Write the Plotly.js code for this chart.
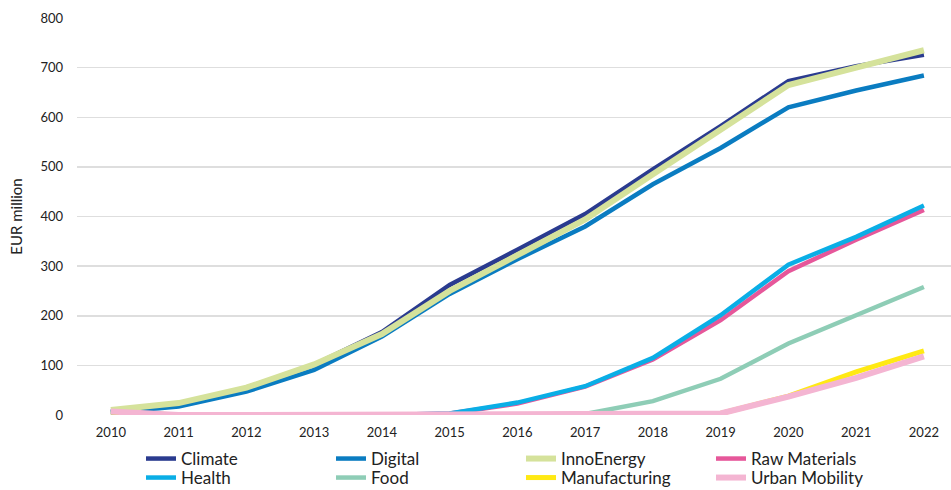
<!DOCTYPE html>
<html>
<head>
<meta charset="utf-8">
<script src="https://cdn.plot.ly/plotly-3.0.1.min.js"></script>
<style>html,body{margin:0;padding:0;background:#fff;}#chart{width:951px;height:490px;}</style>
</head>
<body>
<div id="chart"></div>
<script>
const years = [2010, 2011, 2012, 2013, 2014, 2015, 2016, 2017, 2018, 2019, 2020, 2021, 2022];
const climate = [7, 22, 55, 101, 167, 262, 333, 405, 495, 582, 673, 703, 726];
const digital = [5, 17, 47, 91, 158, 244, 314, 380, 465, 538, 620, 654, 684];
const innoEnergy = [10, 24, 55, 102, 163, 250, 322, 394, 485, 575, 665, 700, 735];
const rawMaterials = [6, 0, 0, 0, 0, 3, 23, 57, 112, 191, 290, 353, 413];
const health = [6, 0, 0, 0, 0, 3, 25, 58, 115, 201, 303, 359, 422];
const food = [6, 0, 0, 0, 0, 0, 0, 2, 28, 73, 144, 202, 258];
const manufacturing = [6, 0, 0, 0, 0, 0, 0, 0, 0, 3, 38, 87, 129];
const urbanMobility = [7, 0, 0, 0, 0, 0, 0, 0, 0, 3, 37, 75, 118];

const seriesNames = ['Climate', 'Digital', 'InnoEnergy', 'Raw Materials', 'Health', 'Food', 'Manufacturing', 'Urban Mobility'];
const seriesValues = [climate, digital, innoEnergy, rawMaterials, health, food, manufacturing, urbanMobility];
const colors = ['#2a3b8f', '#0a7cc1', '#d5e29b', '#e6579a', '#0aaee6', '#8ecdb6', '#ffe914', '#f4b5d2'];
const widths = [4.5, 4.5, 6, 4.5, 4.5, 4.5, 5, 6];
const legendRow = ['legend', 'legend', 'legend', 'legend', 'legend2', 'legend2', 'legend2', 'legend2'];

const traces = seriesNames.map((n, i) => ({
  type: 'scatter', mode: 'lines', name: n, x: years, y: seriesValues[i],
  line: {color: colors[i], width: widths[i]}, hoverinfo: 'skip', legend: legendRow[i]
}));

const legendBase = {
  orientation: 'h', xref: 'container', yref: 'container',
  x: 141 / 951, xanchor: 'left', yanchor: 'middle',
  entrywidth: 145, entrywidthmode: 'pixels',
  font: {size: 17, color: '#222'}, traceorder: 'normal', bgcolor: 'rgba(0,0,0,0)'
};

const layout = {
  width: 951, height: 490,
  margin: {l: 77, r: 0, t: 18, b: 75},
  paper_bgcolor: '#fff', plot_bgcolor: '#fff',
  font: {family: 'Lato, "DejaVu Sans", sans-serif', color: '#222', size: 13},
  showlegend: true,
  legend: Object.assign({}, legendBase, {y: 1 - 459 / 490}),
  legend2: Object.assign({}, legendBase, {y: 1 - 478 / 490}),
  xaxis: {
    range: [2009.5, 2022.4], tickmode: 'array', tickvals: years, ticktext: years.map(String),
    showgrid: false, zeroline: false, showline: false, ticks: '', tickfont: {size: 13},
    ticklabelstandoff: 8
  },
  yaxis: {
    range: [0, 800], tickvals: [0, 100, 200, 300, 400, 500, 600, 700, 800],
    showgrid: true, gridcolor: '#dedede', gridwidth: 1.5, zeroline: false, showline: false,
    ticks: '', tickfont: {size: 13}, ticklabelstandoff: 13,
    title: {text: 'EUR million', font: {size: 15}, standoff: 14}
  }
};

Plotly.newPlot('chart', traces, layout, {displayModeBar: false, staticPlot: true});
</script>
</body>
</html>
